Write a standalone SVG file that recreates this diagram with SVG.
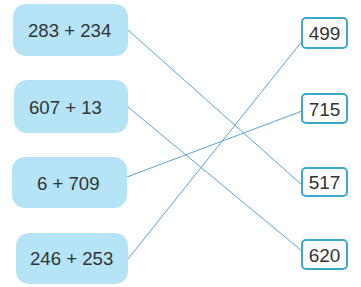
<svg xmlns="http://www.w3.org/2000/svg" width="361" height="287" viewBox="0 0 361 287">
<style>
.l{fill:#b5e4f7;}
.r{fill:#fff;stroke:#3ba8c9;stroke-width:2;}
.t{font-family:"Liberation Sans",Arial,sans-serif;font-size:18.6px;fill:#333;}
.u{font-family:"Liberation Sans",Arial,sans-serif;font-size:19px;fill:#333;text-anchor:middle;}
.c{stroke:#5aa3d6;stroke-width:1;fill:none;}
</style>
<rect width="361" height="287" fill="#fff"/>
<g id="connectors">
<line class="c" x1="128" y1="30" x2="302" y2="185"/>
<line class="c" x1="128" y1="107" x2="302" y2="251"/>
<line class="c" x1="127" y1="177" x2="302" y2="111"/>
<line class="c" x1="128" y1="259" x2="303" y2="40"/>
</g>
<g id="n1"><rect class="l" x="13" y="4" width="115" height="52" rx="13"/><text class="t" x="28" y="37">283 + 234</text></g>
<g id="n2"><rect class="l" x="14" y="80" width="114" height="53" rx="13"/><text class="t" x="29" y="114">607 + 13</text></g>
<g id="n3"><rect class="l" x="12" y="157" width="115" height="51" rx="13"/><text class="t" x="37" y="190">6 + 709</text></g>
<g id="n4"><rect class="l" x="16" y="233" width="112" height="51" rx="13"/><text class="t" x="30" y="265">246 + 253</text></g>
<g id="n5"><rect class="r" x="302" y="18" width="45" height="30" rx="4"/><text class="u" x="324.5" y="40">499</text></g>
<g id="n6"><rect class="r" x="302" y="94" width="45" height="29" rx="4"/><text class="u" x="324.5" y="116">715</text></g>
<g id="n7"><rect class="r" x="302" y="168" width="45" height="28" rx="4"/><text class="u" x="324.5" y="189">517</text></g>
<g id="n8"><rect class="r" x="302" y="240" width="45" height="29" rx="4"/><text class="u" x="324.5" y="262">620</text></g>
</svg>
